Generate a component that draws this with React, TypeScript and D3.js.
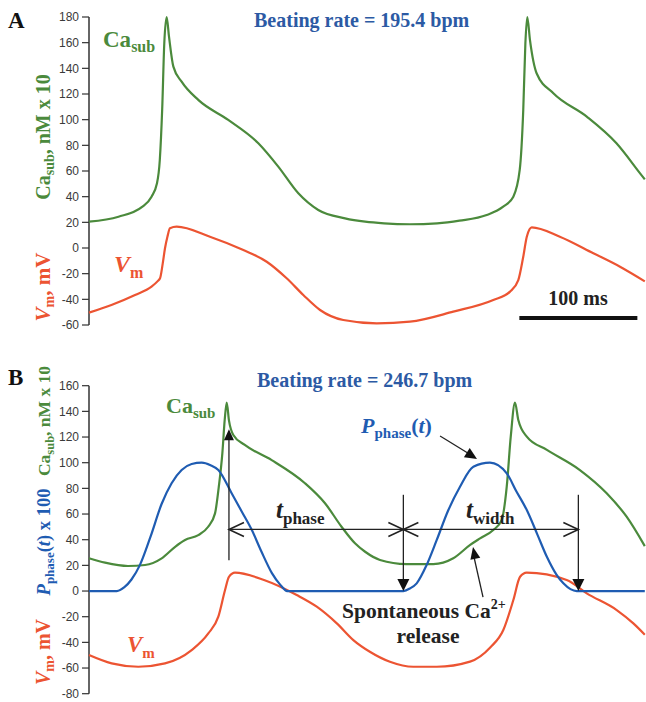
import React from 'react';
import * as d3 from 'd3';

// ---------- Panel A (beating rate 195.4 bpm) ----------
const A_CA_T = [0, 25, 45, 53, 57.5, 60, 62, 63.8, 65.8, 67.8, 71.5, 78.5, 92.6, 118, 143.5, 160.4, 177.4, 194.3, 217, 234, 250, 272, 295, 314, 337, 351, 359.6, 365, 368, 369.8, 371.4, 373.7, 379.4, 393.5, 421.8, 447, 467, 471];
const A_CA_V = [20.5, 24.4, 32, 40, 50, 68.6, 107.6, 159.5, 180, 164.7, 141.3, 129.6, 115.4, 99.8, 81.6, 63.4, 42.6, 29.6, 23.1, 20.5, 19.2, 18.5, 19.2, 21.3, 25.7, 32.2, 40, 60.8, 107.6, 159.5, 180, 162, 136, 120.6, 102.4, 81.6, 58.2, 53.5];
const A_VM_T = [0, 19, 39, 53, 58, 60.2, 62.5, 64.4, 66.5, 68.6, 74.3, 102.5, 130.8, 150.6, 167.5, 181.6, 195.8, 215.5, 243.8, 272, 308.7, 342.6, 356.8, 363.8, 368, 371, 375.2, 399, 427.4, 450, 471];
const A_VM_V = [-50.4, -44.4, -36.6, -30.1, -26, -23.6, -12, -0.2, 9, 15.4, 16.6, 8.8, -1.6, -10.7, -23.6, -36.6, -48.3, -56.1, -58.7, -57.4, -49.6, -40.5, -34, -25, -6.8, 8.8, 16.1, 8.8, -4.1, -14.6, -26];
const A_TICKS = [-60, -40, -20, 0, 20, 40, 60, 80, 100, 120, 140, 160, 180];

// ---------- Panel B (beating rate 246.7 bpm) ----------
const B_CA_T = [0, 13.6, 33, 47.5, 61.6, 73, 81.4, 92.6, 101, 106.8, 110, 113, 115, 116.7, 118.6, 122.3, 132, 154.8, 183, 200, 214, 225.4, 234, 246.6, 269, 291.8, 308.7, 323, 331.4, 342.6, 349.7, 354, 357.4, 361, 363.8, 371, 388, 416, 438.7, 455.6, 471];
const B_CA_V = [25.5, 22.1, 19.5, 20.3, 25.5, 34.5, 39.8, 43.6, 50.1, 60.5, 81.3, 107.3, 133.3, 146.8, 133, 121.6, 113.8, 102, 84, 68.4, 50.1, 37.2, 30.6, 24.2, 21, 21, 25.5, 35.9, 41, 47.5, 55.3, 81.3, 120.3, 146.8, 133.3, 120.3, 110, 94.3, 76.2, 57.9, 35];
const B_P_T = [0, 23.5, 30, 36, 43, 52, 61.6, 70, 78.5, 87, 95.5, 103, 109.6, 121, 130, 138, 146, 155, 162, 168, 266.4, 272, 277.7, 286, 294.7, 304, 314.4, 325.7, 339.8, 354, 362, 371, 380, 388, 396, 402, 408, 413.3, 471];
const B_P_V = [0, 0, 3, 9, 20, 42, 68, 84, 94.3, 99, 100, 98, 94.3, 76, 61, 47.5, 31, 14, 5, 0, 0, 2, 6, 20, 39.8, 62, 81.3, 96.9, 100, 91.7, 78, 63.1, 44, 26.7, 13, 6, 1.5, 0, 0];
const B_VM_T = [0, 19.2, 41.8, 64.4, 87, 101.1, 109.6, 115.3, 118.6, 123.7, 148.3, 176, 193, 210, 224, 238, 255, 274.8, 294.7, 322.9, 340, 351.1, 359.6, 365.3, 370.9, 404.8, 421.8, 447.2, 461.3, 471];
const B_VM_V = [-49.9, -56.4, -59, -56.4, -46, -33, -20, 0.8, 11.1, 14.3, 8.6, -3.1, -12.2, -25.2, -38.2, -47.3, -55.1, -59, -59, -55, -44, -30.4, -7, 11.1, 14.3, 8.6, -1.8, -14.8, -25.2, -34];
const B_TICKS = [-80, -60, -40, -20, 0, 20, 40, 60, 80, 100, 120, 140, 160];

// annotation anchors (ms, value)
const T_CA_PEAK = 118.6;
const T_PHASE_END = 266.4;
const T_WIDTH_END = 414.7;
const ARROW_LEVEL = 48;
const SCALE_BAR_START = 364.7;
const SCALE_BAR_MS = 100;

const SERIF = "'Liberation Serif', 'Times New Roman', serif";
const SANS = "'Liberation Sans', Arial, sans-serif";
const GREEN = '#4b8a3c';
const RED = '#ec5432';
const BLUE = '#1f5cb2';
const TITLE = '#2c5aa4';
const INK = '#222';

function tri(tip: [number, number], from: [number, number], len = 11, hw = 5) {
  const dx = tip[0] - from[0], dy = tip[1] - from[1];
  const L = Math.hypot(dx, dy);
  const ux = dx / L, uy = dy / L;
  const bx = tip[0] - ux * len, by = tip[1] - uy * len;
  return `${tip[0]},${tip[1]} ${bx - uy * hw},${by + ux * hw} ${bx + uy * hw},${by - ux * hw}`;
}

function chev(tx: number, ty: number, dir: number) {
  return `M${tx + dir * 15},${ty - 7} L${tx},${ty} L${tx + dir * 15},${ty + 7}`;
}

export default function App() {
  const x = d3.scaleLinear().domain([0, 471]).range([89, 644.8]);
  const yA = d3.scaleLinear().domain([-60, 180]).range([325, 17]);
  const yB = d3.scaleLinear().domain([-80, 160]).range([693.7, 385.7]);

  const mk = (ts: number[], vs: number[], y: d3.ScaleLinear<number, number>) =>
    d3.line<number>().x((d) => x(d)).y((d, i) => y(vs[i])).curve(d3.curveMonotoneX)(ts) || '';

  const axis = (y: d3.ScaleLinear<number, number>, ticks: number[]) => (
    <g>
      <line x1={89} x2={89} y1={y(ticks[0])} y2={y(ticks[ticks.length - 1])} stroke="#333" strokeWidth={1.5} />
      {ticks.map((t) => (
        <g key={t}>
          <line x1={82} x2={89} y1={y(t)} y2={y(t)} stroke="#333" strokeWidth={1.2} />
          <text x={79} y={y(t)} dy="0.35em" textAnchor="end" fontFamily={SANS} fontSize={12} fill="#3a3a3a">{t}</text>
        </g>
      ))}
    </g>
  );

  const xPk = x(T_CA_PEAK), xPh = x(T_PHASE_END), xWd = x(T_WIDTH_END);
  const yLev = yB(ARROW_LEVEL);
  const y0 = yB(0);

  const pArrowFrom: [number, number] = [x(297.5), yB(120.8)];
  const pArrowTip: [number, number] = [x(328.8), yB(102.9)];
  const sArrowFrom: [number, number] = [x(333.9), yB(-4.7)];
  const sArrowTip: [number, number] = [x(325.4), yB(34.3)];

  const lineW = 2.2;

  return (
    <svg width={646} height={702} style={{ position: 'absolute', left: 0, top: 0, background: '#fff' }}>
      {/* Panel A */}
      <text x={8} y={28} fontFamily={SERIF} fontWeight="bold" fontSize={23} fill="#111">A</text>
      {axis(yA, A_TICKS)}
      <text x={254} y={27} fontFamily={SERIF} fontWeight="bold" fontSize={20} fill={TITLE}>Beating rate = 195.4 bpm</text>
      <path d={mk(A_CA_T, A_CA_V, yA)} fill="none" stroke={GREEN} strokeWidth={lineW} />
      <path d={mk(A_VM_T, A_VM_V, yA)} fill="none" stroke={RED} strokeWidth={lineW} />
      <text x={103} y={47} fontFamily={SERIF} fontWeight="bold" fontSize={23} fill={GREEN}>
        Ca<tspan fontSize={16} dy={5}>sub</tspan>
      </text>
      <text x={114} y={272} fontFamily={SERIF} fontWeight="bold" fontSize={24} fill={RED}>
        <tspan fontStyle="italic">V</tspan><tspan fontSize={16} dy={6}>m</tspan>
      </text>
      <text transform="translate(50,137) rotate(-90)" textAnchor="middle" fontFamily={SERIF} fontWeight="bold" fontSize={20} fill={GREEN}>
        Ca<tspan fontSize={14} dy={4}>sub</tspan><tspan dy={-4}>, nM x 10</tspan>
      </text>
      <text transform="translate(50,287) rotate(-90)" textAnchor="middle" fontFamily={SERIF} fontWeight="bold" fontSize={21} fill={RED}>
        <tspan fontStyle="italic">V</tspan><tspan fontSize={14} dy={4}>m</tspan><tspan dy={-4}>, mV</tspan>
      </text>
      <text x={578} y={305} textAnchor="middle" fontFamily={SERIF} fontWeight="bold" fontSize={20} fill={INK}>100 ms</text>
      <line x1={x(SCALE_BAR_START)} x2={x(SCALE_BAR_START + SCALE_BAR_MS)} y1={318} y2={318} stroke="#111" strokeWidth={4} />

      {/* Panel B */}
      <text x={8} y={385} fontFamily={SERIF} fontWeight="bold" fontSize={23} fill="#111">B</text>
      {axis(yB, B_TICKS)}
      <text x={257} y={387} fontFamily={SERIF} fontWeight="bold" fontSize={20} fill={TITLE}>Beating rate = 246.7 bpm</text>
      <path d={mk(B_CA_T, B_CA_V, yB)} fill="none" stroke={GREEN} strokeWidth={lineW} />
      <path d={mk(B_VM_T, B_VM_V, yB)} fill="none" stroke={RED} strokeWidth={lineW} />
      <path d={mk(B_P_T, B_P_V, yB)} fill="none" stroke={BLUE} strokeWidth={lineW} />

      <text x={166} y={413} fontFamily={SERIF} fontWeight="bold" fontSize={22} fill={GREEN}>
        Ca<tspan fontSize={15} dy={5}>sub</tspan>
      </text>
      <text x={127} y={652} fontFamily={SERIF} fontWeight="bold" fontSize={23} fill={RED}>
        <tspan fontStyle="italic">V</tspan><tspan fontSize={15} dy={6}>m</tspan>
      </text>
      <text x={361} y={433} fontFamily={SERIF} fontWeight="bold" fontSize={22} fill={BLUE}>
        <tspan fontStyle="italic">P</tspan><tspan fontSize={15} dy={5}>phase</tspan><tspan dy={-5}>(</tspan><tspan fontStyle="italic">t</tspan><tspan>)</tspan>
      </text>

      <text transform="translate(50,421) rotate(-90)" textAnchor="middle" fontFamily={SERIF} fontWeight="bold" fontSize={17.5} fill={GREEN}>
        Ca<tspan fontSize={12.5} dy={4}>sub</tspan><tspan dy={-4}>, nM x 10</tspan>
      </text>
      <text transform="translate(50,542) rotate(-90)" textAnchor="middle" fontFamily={SERIF} fontWeight="bold" fontSize={18.5} fill={BLUE}>
        <tspan fontStyle="italic">P</tspan><tspan fontSize={13} dy={4}>phase</tspan><tspan dy={-4}>(</tspan><tspan fontStyle="italic">t</tspan><tspan>) x 100</tspan>
      </text>
      <text transform="translate(50,652) rotate(-90)" textAnchor="middle" fontFamily={SERIF} fontWeight="bold" fontSize={20} fill={RED}>
        <tspan fontStyle="italic">V</tspan><tspan fontSize={14} dy={4}>m</tspan><tspan dy={-4}>, mV</tspan>
      </text>

      {/* annotation arrows */}
      <g stroke={INK} strokeWidth={1.3} fill="none">
        <line x1={xPk} x2={xPk} y1={yB(24)} y2={yB(126) + 9} />
        <line x1={xPk} x2={xPh} y1={yLev} y2={yLev} />
        <line x1={xPh} x2={xWd} y1={yLev} y2={yLev} />
        <path d={chev(xPk, yLev, 1)} strokeWidth={1.6} />
        <path d={chev(xPh, yLev, -1)} strokeWidth={1.6} />
        <path d={chev(xPh, yLev, 1)} strokeWidth={1.6} />
        <path d={chev(xWd, yLev, -1)} strokeWidth={1.6} />
        <line x1={xPh} x2={xPh} y1={yB(75)} y2={y0 - 10} />
        <line x1={xWd} x2={xWd} y1={yB(75)} y2={y0 - 10} />
        <line x1={pArrowFrom[0]} y1={pArrowFrom[1]} x2={pArrowTip[0] - 6} y2={pArrowTip[1] - 4} />
        <line x1={sArrowFrom[0]} y1={sArrowFrom[1]} x2={sArrowTip[0] + 1} y2={sArrowTip[1] + 10} />
      </g>
      <g fill="#111">
        <polygon points={tri([xPk, yB(126)], [xPk, yB(24)], 11, 5)} />
        <polygon points={tri([xPh, y0], [xPh, yB(75)], 12, 6)} />
        <polygon points={tri([xWd, y0], [xWd, yB(75)], 12, 6)} />
        <polygon points={tri(pArrowTip, pArrowFrom, 12, 5.5)} />
        <polygon points={tri(sArrowTip, sArrowFrom, 12, 5)} />
      </g>

      <text x={276} y={518} fontFamily={SERIF} fontWeight="bold" fontSize={25} fill={INK}>
        <tspan fontStyle="italic">t</tspan><tspan fontSize={17} dy={6}>phase</tspan>
      </text>
      <text x={466} y={518} fontFamily={SERIF} fontWeight="bold" fontSize={25} fill={INK}>
        <tspan fontStyle="italic">t</tspan><tspan fontSize={17} dy={6}>width</tspan>
      </text>
      <text x={342} y={618} fontFamily={SERIF} fontWeight="bold" fontSize={21.5} fill={INK}>
        Spontaneous Ca<tspan fontSize={14} dy={-9}>2+</tspan>
      </text>
      <text x={428} y={643} textAnchor="middle" fontFamily={SERIF} fontWeight="bold" fontSize={21.5} fill={INK}>release</text>
    </svg>
  );
}
